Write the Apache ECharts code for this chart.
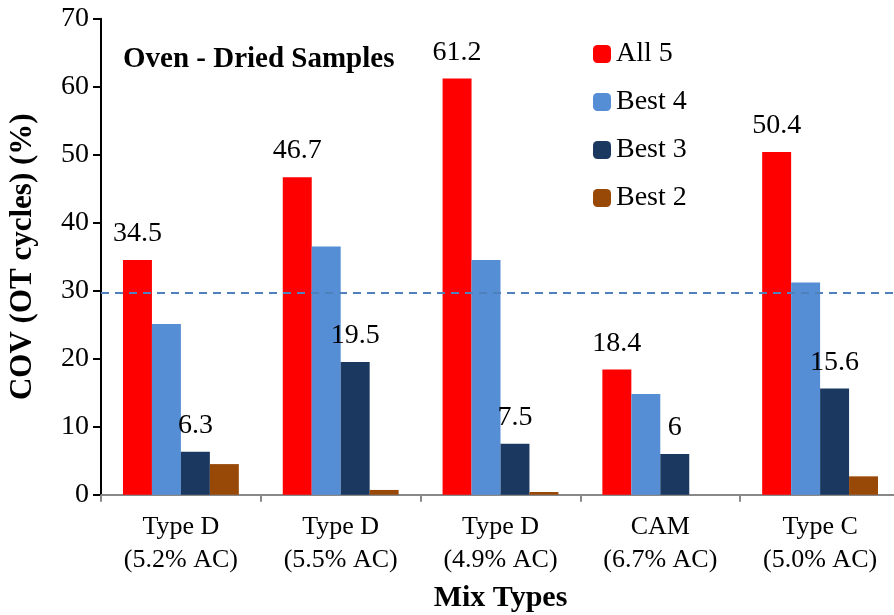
<!DOCTYPE html>
<html>
<head>
<meta charset="utf-8">
<script src="https://cdn.jsdelivr.net/npm/echarts@6/dist/echarts.min.js"></script>
<style>
html,body{margin:0;padding:0;background:#fff;}
#main{width:894px;height:615px;}
</style>
</head>
<body>
<div id="main"></div>
<script>
var categories = ['Type D\n(5.2% AC)', 'Type D\n(5.5% AC)', 'Type D\n(4.9% AC)', 'CAM\n(6.7% AC)', 'Type C\n(5.0% AC)'];
var all5Data = [34.5, 46.7, 61.2, 18.4, 50.4];
var best4Data = [25.1, 36.5, 34.5, 14.8, 31.2];
var best3Data = [6.3, 19.5, 7.5, 6, 15.6];
var best2Data = [4.5, 0.7, 0.4, 0, 2.7];
var refLineValue = 29.7;
var yTicks = [0, 10, 20, 30, 40, 50, 60, 70];

var fontName = '"Liberation Serif", "Times New Roman", serif';
var myChart = echarts.init(document.getElementById('main'));

var valueLabel = {
    show: true,
    position: 'top',
    distance: 12,
    color: '#000',
    fontFamily: fontName,
    fontSize: 28
};

var option = {
    animation: false,
    backgroundColor: '#fff',
    title: {
        text: 'Oven - Dried Samples',
        left: 118,
        top: 40,
        textStyle: {
            fontFamily: fontName,
            fontWeight: 'bold',
            fontSize: 29,
            color: '#000'
        }
    },
    legend: {
        orient: 'vertical',
        left: 588,
        top: 35,
        itemWidth: 18,
        itemHeight: 18,
        itemGap: 20,
        itemStyle: { borderWidth: 0 },
        textStyle: {
            fontFamily: fontName,
            fontSize: 28,
            color: '#000'
        },
        data: ['All 5', 'Best 4', 'Best 3', 'Best 2']
    },
    grid: {
        left: 101,
        right: -6,
        top: 18.7,
        bottom: 120.3,
        containLabel: false,
        outerBoundsMode: 'none'
    },
    xAxis: {
        type: 'category',
        data: categories,
        name: 'Mix Types',
        nameLocation: 'middle',
        nameGap: 89,
        nameTextStyle: {
            fontFamily: fontName,
            fontWeight: 'bold',
            fontSize: 30,
            color: '#000'
        },
        axisLine: { lineStyle: { color: '#888', width: 2 } },
        axisTick: { show: true, length: 7, lineStyle: { color: '#888', width: 2 } },
        axisLabel: {
            fontFamily: fontName,
            fontSize: 26,
            color: '#000',
            lineHeight: 33,
            margin: 16
        }
    },
    yAxis: {
        type: 'value',
        min: yTicks[0],
        max: yTicks[yTicks.length - 1],
        interval: 10,
        name: 'COV (OT cycles) (%)',
        nameLocation: 'middle',
        nameGap: 63,
        nameTextStyle: {
            fontFamily: fontName,
            fontWeight: 'bold',
            fontSize: 31,
            color: '#000'
        },
        splitLine: { show: false },
        axisLine: { show: true, lineStyle: { color: '#000', width: 2 } },
        axisTick: { show: true, length: 8, lineStyle: { color: '#000', width: 2 } },
        axisLabel: {
            fontFamily: fontName,
            fontSize: 28,
            color: '#000',
            margin: 12
        }
    },
    series: [
        {
            name: 'All 5',
            type: 'bar',
            data: all5Data,
            barGap: 0,
            barCategoryGap: '27.5%',
            itemStyle: { color: '#FF0000' },
            label: valueLabel,
            markLine: {
                silent: true,
                symbol: 'none',
                label: { show: false },
                lineStyle: { color: '#4F81BD', type: [8, 6], width: 2 },
                data: [{ yAxis: refLineValue }]
            }
        },
        {
            name: 'Best 4',
            type: 'bar',
            data: best4Data,
            itemStyle: { color: '#558ED5' }
        },
        {
            name: 'Best 3',
            type: 'bar',
            data: best3Data,
            itemStyle: { color: '#1B3860' },
            label: valueLabel
        },
        {
            name: 'Best 2',
            type: 'bar',
            data: best2Data,
            itemStyle: { color: '#984807' }
        }
    ]
};

myChart.setOption(option);
</script>
</body>
</html>
